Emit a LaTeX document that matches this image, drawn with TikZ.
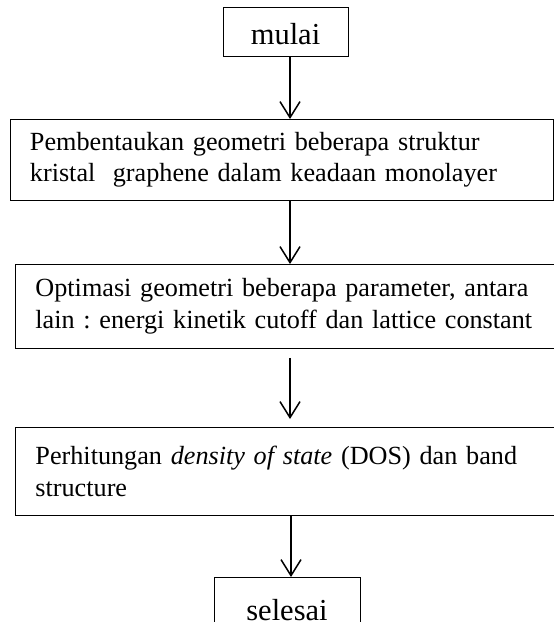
\documentclass[tikz,border=0pt]{standalone}
\usepackage{fontspec}
\setmainfont{Liberation Serif}
\usetikzlibrary{arrows.meta, positioning, calc}
\frenchspacing

\begin{document}
\begin{tikzpicture}[x=1pt, y=-1pt]
    \tikzset{
        terminal/.style={
                draw=black, line width=0.9pt, inner sep=0pt,
                minimum width=125pt, minimum height=49pt, text height=26pt,
                font=\fontsize{30.5}{36}\selectfont
            },
        process/.style={
                draw=black, line width=0.9pt, anchor=north west,
                align=left, inner xsep=20pt, inner ysep=0pt,
                font=\fontsize{26.2}{31.5}\selectfont
            },
        flow/.style={
                -{Straight Barb[length=16pt, width=20pt, line width=1.5pt]},
                line width=1.5pt
            }
    }
    \useasboundingbox (0,0) rectangle (554,622);

    \coordinate (jalur) at (290,0);
    \coordinate (jalur2) at (291,0);

    \node[terminal] (mulai) at (285.5, 31.5) {mulai};
    \node[process, text width=503.5pt, minimum height=81pt] (bentuk) at (9.5, 119)
        {Pembentaukan geometri beberapa struktur\\kristal\ \ graphene dalam keadaan monolayer};
    \node[process, text width=525pt, minimum height=84pt] (optimasi) at (15, 264)
        {Optimasi geometri beberapa parameter, antara\\lain : energi kinetik cutoff dan lattice constant};
    \node[process, text width=525pt, minimum height=88pt] (hitung) at (15, 427)
        {Perhitungan \textit{density of state} (DOS) dan band\\structure};
    \node[terminal, minimum width=146pt, minimum height=60pt, anchor=north] (selesai) at (287, 577) {selesai};

    % alur proses
    \draw[flow] (mulai.south -| jalur) -- (bentuk.north -| jalur);
    \draw[flow] (bentuk.south -| jalur) -- (optimasi.north -| jalur);
    \draw[flow, shorten <=9pt, shorten >=8pt] (optimasi.south -| jalur) -- (hitung.north -| jalur);
    \draw[flow] (hitung.south -| jalur2) -- (selesai.north -| jalur2);
\end{tikzpicture}
\end{document}
